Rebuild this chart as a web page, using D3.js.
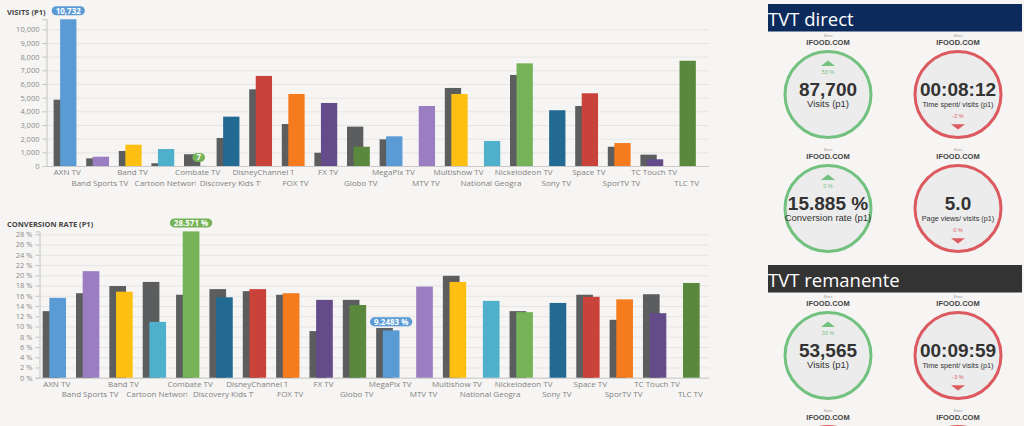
<!DOCTYPE html>
<html lang="en">
<head>
<meta charset="UTF-8">
<title>TVT channels</title>
<script src="https://cdn.jsdelivr.net/npm/d3@7"></script>
<style>
  body { margin: 0; background-color: #f6f5f3; overflow: hidden; }
  svg { display: block; font-family: 'Open Sans', sans-serif; }
  .grid line { stroke: #e6e5e3; stroke-width: 1px; }
  .axisY path, .axisY line { stroke: #c4c4c4; }
  .axisY text { fill: #8a8a8a; font-size: 7.5px; font-family: 'Open Sans', sans-serif; }
  .base { stroke: #c8c8c8; }
  .cat { fill: #828282; font-size: 8px; }
  .title { fill: #454545; font-size: 7.5px; font-weight: bold; }
  .pill text { fill: #fff; font-size: 8px; font-weight: bold; }
  .kpi text { font-family: 'Liberation Sans', Arial, sans-serif; }
</style>
</head>
<body>
<script>

  // channels on the x axis
  var channels = ['AXN TV', 'Band Sports TV', 'Band TV', 'Cartoon Network', 'Combate TV',
    'Discovery Kids TV', 'DisneyChannel TV', 'FOX TV', 'FX TV', 'Globo TV', 'MegaPix TV',
    'MTV TV', 'Multishow TV', 'National Geographic', 'Nickelodeon TV', 'Sony TV', 'Space TV',
    'SporTV TV', 'TC Touch TV', 'TLC TV'];

  // visits, previous period (gray) and current period (coloured)
  var visitsPrev = [4850, 560, 1100, 200, 860, 2050, 5610, 3070, 970, 2880, 1950,
    null, 5710, null, 6660, null, 4390, 1410, 830, null];
  var visitsCur = [10732, 680, 1560, 1240, 7, 3610, 6590, 5270, 4610, 1410, 2170,
    4390, 5270, 1830, 7510, 4080, 5320, 1680, 490, 7700];

  // conversion rate (%), previous and current
  var convPrev = [13.0, 16.5, 17.9, 18.7, 16.2, 17.3, 16.9, 16.2, 9.1, 15.2, 9.7,
    null, 19.9, null, 13.0, null, 16.2, 11.3, 16.3, null];
  var convCur = [15.6, 20.8, 16.8, 10.9, 28.571, 15.7, 17.3, 16.5, 15.2, 14.2, 9.2483,
    17.8, 18.7, 15.0, 12.8, 14.6, 15.8, 15.3, 12.6, 18.5];

  var visitTicks = d3.range(0, 10001, 1000);
  var convTicks = d3.range(0, 29, 2);

  // right hand KPI panel
  var sections = ['TVT direct', 'TVT remanente'];
  var kpiSite = 'IFOOD.COM';
  var kpiValues = ['87,700', '00:08:12', '15.885 %', '5.0', '53,565', '00:09:59', null, null];
  var kpiLabels = ['Visits (p1)', 'Time spent/ visits (p1)', 'Conversion rate (p1)',
    'Page views/ visits (p1)', 'Visits (p1)', 'Time spent/ visits (p1)', null, null];
  var kpiChange = [53, -2, 0, 0, 33, -3, null, null];
  var kpiTrend = ['up', 'down', 'up', 'down', 'up', 'down', 'down', 'down'];

  var palette = ['#5b9bd5', '#9b7ec1', '#fdc012', '#4fb0cb', '#76b257',
    '#236a93', '#c9433a', '#f67b1c', '#634c89', '#5a893e'];
  var gray = '#5c5d5f';

  var svg = d3.select('body').append('svg')
    .attr('width', 1024)
    .attr('height', 426);
  var defs = svg.append('defs');
  var clipId = 0;

  function drawChart(opt) {
    var g = svg.append('g');
    var x = d3.scaleBand().domain(channels).range(opt.xRange);
    var y = d3.scaleLinear().domain([0, d3.max(opt.cur)]).range(opt.yRange);
    var bw = x.bandwidth();

    g.append('g').attr('class', 'grid')
      .selectAll('line')
      .data(opt.ticks)
      .enter().append('line')
      .attr('x1', opt.axisX).attr('x2', 709)
      .attr('y1', function (d) { return y(d) + 0.5; })
      .attr('y2', function (d) { return y(d) + 0.5; });

    g.append('g')
      .attr('class', 'axisY')
      .attr('transform', 'translate(' + opt.axisX + ',0)')
      .call(d3.axisLeft(y).tickValues(opt.ticks).tickFormat(opt.fmt)
        .tickSize(4).tickSizeOuter(4).tickPadding(3));

    g.append('line').attr('class', 'base')
      .attr('x1', opt.axisX).attr('x2', 709)
      .attr('y1', opt.yRange[0] + 0.5).attr('y2', opt.yRange[0] + 0.5);

    g.append('text').attr('class', 'title')
      .attr('x', 7).attr('y', opt.titleY)
      .text(opt.title);

    g.selectAll('.prev')
      .data(channels)
      .enter().append('rect')
      .filter(function (d, i) { return opt.prev[i] != null; })
      .attr('x', function (d) { return x(d) + 0.08 * bw; })
      .attr('width', 0.5 * bw)
      .attr('y', function (d) { return y(opt.prev[channels.indexOf(d)]); })
      .attr('height', function (d) { return opt.yRange[0] - y(opt.prev[channels.indexOf(d)]); })
      .style('fill', gray);

    g.selectAll('.cur')
      .data(channels)
      .enter().append('rect')
      .attr('x', function (d) { return x(d) + 0.28 * bw; })
      .attr('width', 0.5 * bw)
      .attr('y', function (d, i) { return y(opt.cur[i]); })
      .attr('height', function (d, i) { return opt.yRange[0] - y(opt.cur[i]); })
      .style('fill', function (d, i) { return palette[i % palette.length]; });

    // category labels, two staggered rows, clipped when too long
    var W = 61;
    channels.forEach(function (name, i) {
      var c = x(name) + bw / 2;
      var t = g.append('text').attr('class', 'cat')
        .attr('x', c)
        .attr('y', opt.yRange[0] + (i % 2 ? 19.5 : 9))
        .attr('text-anchor', 'middle')
        .text(name);
      if (t.node().getComputedTextLength() > W) {
        var id = 'clip' + (clipId++);
        defs.append('clipPath').attr('id', id).append('rect')
          .attr('x', c - W / 2).attr('y', opt.yRange[0])
          .attr('width', W).attr('height', 30);
        t.attr('text-anchor', 'start').attr('x', c - W / 2)
          .attr('clip-path', 'url(#' + id + ')');
      }
    });

    // max / min bubbles on the current series
    var iMax = d3.maxIndex(opt.cur), iMin = d3.minIndex(opt.cur);
    [iMax, iMin].forEach(function (i) {
      var cx = x(channels[i]) + 0.53 * bw;
      var cy = y(opt.cur[i]) - 8.5;
      var p = g.append('g').attr('class', 'pill');
      var r = p.append('rect');
      var t = p.append('text')
        .attr('x', cx).attr('y', cy + 3)
        .attr('text-anchor', 'middle')
        .text(opt.label(opt.cur[i]));
      var w = t.node().getComputedTextLength() + 8;
      r.attr('x', cx - w / 2).attr('y', cy - 4.5)
        .attr('width', w).attr('height', 9)
        .attr('rx', 4.5)
        .style('fill', palette[i % palette.length]);
    });
  }

  drawChart({
    title: 'VISITS (P1)', titleY: 15,
    prev: visitsPrev, cur: visitsCur, ticks: visitTicks,
    xRange: [51, 703], yRange: [166, 19.3], axisX: 46.5,
    fmt: d3.format(','), label: d3.format(',')
  });

  drawChart({
    title: 'CONVERSION RATE (P1)', titleY: 227,
    prev: convPrev, cur: convCur, ticks: convTicks,
    xRange: [40, 707], yRange: [377.7, 231.4], axisX: 39.5,
    fmt: function (d) { return d + ' %'; },
    label: function (d) { return d3.format('.5~')(d) + ' %'; }
  });

  // KPI panel
  var panel = svg.append('g').attr('class', 'kpi');
  var headTop = [4, 265];
  var headFill = ['#0c2b5c', '#333333'];
  var colX = [828, 958];
  var green = '#72c17f', red = '#dc5a5f';

  sections.forEach(function (s, si) {
    panel.append('rect')
      .attr('x', 768).attr('y', headTop[si])
      .attr('width', 254).attr('height', 27.5)
      .style('fill', headFill[si]);
    panel.append('text')
      .attr('x', 768).attr('y', headTop[si] + 22)
      .style('font-family', "'Open Sans', sans-serif")
      .style('font-size', '18.5px')
      .style('fill', '#fff')
      .text(s);
  });

  kpiTrend.forEach(function (trend, k) {
    var si = Math.floor(k / 4), row = Math.floor((k % 4) / 2), col = k % 2;
    var cx = colX[col];
    var cy = headTop[si] + 90.5 + row * 114;
    var col1 = trend === 'up' ? green : red;

    panel.append('text').attr('x', cx).attr('y', cy - 57.8)
      .attr('text-anchor', 'middle')
      .style('font-size', '4px').style('fill', '#999')
      .text('Sites');
    panel.append('text').attr('x', cx).attr('y', cy - 49.6)
      .attr('text-anchor', 'middle')
      .style('font-size', '7.5px').style('font-weight', 'bold').style('fill', '#444')
      .text(kpiSite);

    panel.append('circle')
      .attr('cx', cx).attr('cy', cy).attr('r', 43)
      .style('fill', '#ececec')
      .style('stroke', col1)
      .style('stroke-width', 3);

    if (kpiValues[k] == null) return;

    var tri = trend === 'up'
      ? [[cx - 7, cy - 28.5], [cx + 7, cy - 28.5], [cx, cy - 34]]
      : [[cx - 7, cy + 29.7], [cx + 7, cy + 29.7], [cx, cy + 35]];
    panel.append('path')
      .attr('d', d3.line()(tri) + 'Z')
      .style('fill', col1);

    panel.append('text').attr('x', cx)
      .attr('y', trend === 'up' ? cy - 20.5 : cy + 23.5)
      .attr('text-anchor', 'middle')
      .style('font-size', '5.5px').style('fill', col1)
      .text(kpiChange[k] + ' %');

    panel.append('text').attr('x', cx).attr('y', cy + 1.4)
      .attr('text-anchor', 'middle')
      .style('font-size', '19px').style('font-weight', 'bold').style('fill', '#333')
      .text(kpiValues[k]);

    var lab = panel.append('text').attr('x', cx).attr('y', cy + 12)
      .attr('text-anchor', 'middle')
      .style('font-size', '9.5px').style('fill', '#333')
      .text(kpiLabels[k]);
    if (lab.node().getComputedTextLength() > 88) {
      lab.style('font-size', '7.3px');
    }
  });

</script>
</body>
</html>
